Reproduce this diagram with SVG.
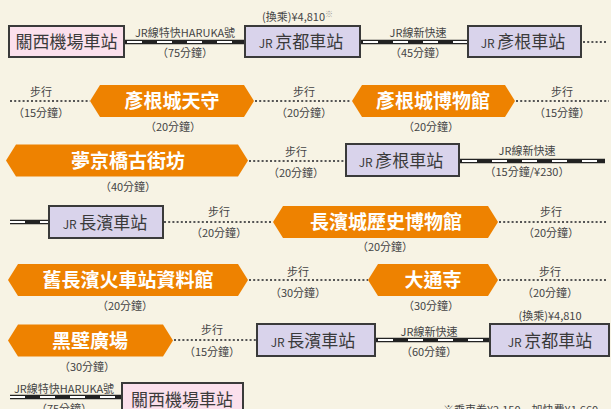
<svg xmlns="http://www.w3.org/2000/svg" width="611" height="409" viewBox="0 0 611 409">
<style>
text{font-family:"Noto Sans CJK TC","Noto Sans",sans-serif;fill:#3a3a3a}
.st{stroke:#3a3a3a;stroke-width:2}
.pink{fill:#fbe0ec}
.lav{fill:#d9d3eb}
.nm{font-size:17px;text-anchor:middle}
.jr{font-size:12px}
.hex{fill:#ee8200}
.ht{font-size:19px;font-weight:bold;fill:#ffffff;text-anchor:middle}
.lb{font-size:11px;text-anchor:middle;fill:#444}
.rb{stroke:#222;stroke-width:4.5;fill:none}
.rw{stroke:#fff;stroke-width:2;stroke-dasharray:15 15;fill:none}
.dot{stroke:#555;stroke-width:2;stroke-dasharray:2 2.2;fill:none}
</style>
<rect width="611" height="409" fill="#f7f3e4"/>
<g id="connectors">
<path class="rb" d="M124 42H245M360 42H468M459 161H605M10 222H49M375 340H490M10 397H122"/>
<path class="rw" d="M127 42H245M363 42H468M462 161H605M10 222H49M378 340H490M10 397H122"/>
<path class="dot" d="M583 42H608M10 101H90M255 101H351M516 101H609M249 161H346M164 222H273M499 222H607M249 280H368M499 280H608M174 340H257"/>
<text class="lb" x="185" y="36.5">JR線特快HARUKA號</text>
<text class="lb" x="185" y="57">（75分鐘）</text>
<text x="262" y="21" style="font-size:11px;fill:#444">(換乘)¥4,810<tspan style="font-size:8px;fill:#999" dy="-4">※</tspan></text>
<text class="lb" x="418" y="36.5">JR線新快速</text>
<text class="lb" x="418" y="57">（45分鐘）</text>
<text class="lb" x="41" y="96">步行</text>
<text class="lb" x="41" y="117">（15分鐘）</text>
<text class="lb" x="173" y="131">（20分鐘）</text>
<text class="lb" x="304" y="96">步行</text>
<text class="lb" x="304" y="117">（20分鐘）</text>
<text class="lb" x="431" y="131">（20分鐘）</text>
<text class="lb" x="562" y="96">步行</text>
<text class="lb" x="562" y="117">（15分鐘）</text>
<text class="lb" x="128" y="191">（40分鐘）</text>
<text class="lb" x="296" y="156">步行</text>
<text class="lb" x="296" y="177">（20分鐘）</text>
<text class="lb" x="527" y="155">JR線新快速</text>
<text class="lb" x="527" y="176">（15分鐘/¥230）</text>
<text class="lb" x="219" y="216">步行</text>
<text class="lb" x="219" y="237">（20分鐘）</text>
<text class="lb" x="385" y="251">（20分鐘）</text>
<text class="lb" x="551" y="216">步行</text>
<text class="lb" x="551" y="237">（20分鐘）</text>
<text class="lb" x="125" y="310">（20分鐘）</text>
<text class="lb" x="298" y="276">步行</text>
<text class="lb" x="298" y="297">（30分鐘）</text>
<text class="lb" x="431" y="310">（30分鐘）</text>
<text class="lb" x="550" y="276">步行</text>
<text class="lb" x="550" y="297">（20分鐘）</text>
<text class="lb" x="87" y="371">（30分鐘）</text>
<text class="lb" x="212" y="334">步行</text>
<text class="lb" x="212" y="356">（15分鐘）</text>
<text class="lb" x="429" y="336">JR線新快速</text>
<text class="lb" x="429" y="356">（60分鐘）</text>
<text class="lb" x="550" y="320">(換乘)¥4,810</text>
<text class="lb" x="64" y="393">JR線特快HARUKA號</text>
<text class="lb" x="64" y="413">（75分鐘）</text>
</g>
<g id="n1"><rect class="pink st" x="9" y="26" width="115" height="31"/><text class="nm" x="66.5" y="48">關西機場車站</text></g>
<g id="n2"><rect class="lav st" x="245" y="26" width="115" height="31"/><text class="nm" x="301" y="48"><tspan class="jr">JR </tspan>京都車站</text></g>
<g id="n3"><rect class="lav st" x="468" y="26" width="113" height="31"/><text class="nm" x="523" y="48"><tspan class="jr">JR </tspan>彥根車站</text></g>
<g id="n4"><path class="hex" d="M90 101L100 85H244L254 101L244 117H100Z"/><text class="ht" x="172" y="108">彥根城天守</text></g>
<g id="n5"><path class="hex" d="M352 101L362 85H505L515 101L505 117H362Z"/><text class="ht" x="433" y="108">彥根城博物館</text></g>
<g id="n6"><path class="hex" d="M6 160.5L16 144.5H238L248 160.5L238 176.5H16Z"/><text class="ht" x="128" y="167.5">夢京橋古街坊</text></g>
<g id="n7"><rect class="lav st" x="346" y="144" width="113" height="32"/><text class="nm" x="401" y="166.5"><tspan class="jr">JR </tspan>彥根車站</text></g>
<g id="n8"><rect class="lav st" x="49" y="206" width="114" height="32"/><text class="nm" x="105" y="228.5"><tspan class="jr">JR </tspan>長濱車站</text></g>
<g id="n9"><path class="hex" d="M273 222L283 206H488L498 222L488 238H283Z"/><text class="ht" x="386" y="229">長濱城歷史博物館</text></g>
<g id="n10"><path class="hex" d="M8 280L18 264H238L248 280L238 296H18Z"/><text class="ht" x="128" y="287">舊長濱火車站資料館</text></g>
<g id="n11"><path class="hex" d="M368 280L378 264H488L498 280L488 296H378Z"/><text class="ht" x="433" y="287">大通寺</text></g>
<g id="n12"><path class="hex" d="M8 340.5L18 324.5H163L173 340.5L163 356.5H18Z"/><text class="ht" x="90" y="347.5">黑壁廣場</text></g>
<g id="n13"><rect class="lav st" x="257" y="324" width="118" height="32"/><text class="nm" x="313" y="346.5"><tspan class="jr">JR </tspan>長濱車站</text></g>
<g id="n14"><rect class="lav st" x="490" y="324" width="119" height="32"/><text class="nm" x="550" y="346.5"><tspan class="jr">JR </tspan>京都車站</text></g>
<g id="n15"><rect class="pink st" x="122" y="383" width="121" height="32"/><text class="nm" x="182" y="405.5">關西機場車站</text></g>
<text x="443" y="413.5" style="font-size:11px;fill:#444">※乘車券¥2,150　加快費¥1,660</text>
</svg>
